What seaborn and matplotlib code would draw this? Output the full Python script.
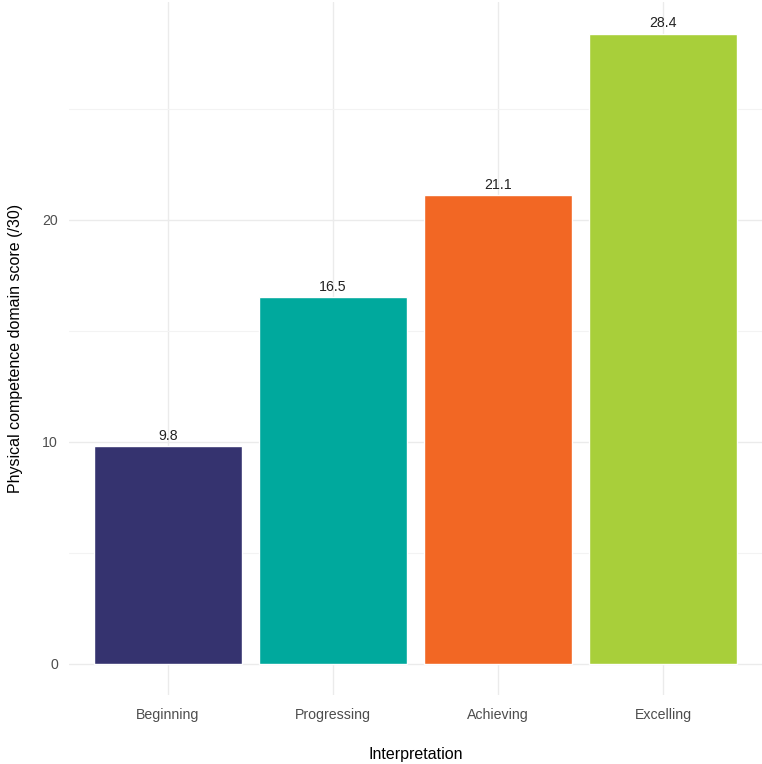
import matplotlib
matplotlib.use("Agg")
import matplotlib.pyplot as plt
import seaborn as sns
import pandas as pd
from matplotlib.ticker import MultipleLocator

categories = ["Beginning", "Progressing", "Achieving", "Excelling"]
scores = [9.8, 16.5, 21.1, 28.4]
colors = ["#35336F", "#00A99D", "#F26724", "#A8CF3A"]
y_ticks = [0, 10, 20]

df = pd.DataFrame({"Interpretation": categories, "Score": scores})

sns.set_theme(style="white")
plt.rcParams["font.family"] = ["Liberation Sans", "DejaVu Sans"]

fig = plt.figure(figsize=(7.62, 7.64), dpi=100)
ax = fig.add_axes([69 / 762, 69 / 764, 693 / 762, 693 / 764])

sns.barplot(data=df, x="Interpretation", y="Score", hue="Interpretation",
            palette=colors, width=0.9, saturation=1, legend=False, ax=ax,
            zorder=2)

ymax = max(scores)
pad = 0.05 * ymax
ax.set_ylim(-pad, ymax + pad)
ax.set_xlim(-0.6, len(categories) - 0.4)

ax.set_yticks(y_ticks)
ax.yaxis.set_minor_locator(MultipleLocator(5))
ax.grid(True, which="major", color="#EBEBEB", linewidth=1.0, zorder=0)
ax.grid(True, which="minor", axis="y", color="#F3F3F3", linewidth=0.8, zorder=0)
ax.set_axisbelow(True)

for s in ax.spines.values():
    s.set_visible(False)

ax.tick_params(axis="both", which="both", length=0, labelsize=10.2,
               labelcolor="#4D4D4D")
ax.tick_params(axis="x", pad=9)
ax.tick_params(axis="y", pad=8)

for i, v in enumerate(scores):
    ax.text(i, v + 0.15, f"{v:.1f}", ha="center", va="bottom",
            fontsize=10.2, color="#222222")

ax.set_xlabel("Interpretation", fontsize=11.5, color="black", labelpad=18)
ax.set_ylabel("Physical competence domain score (/30)", fontsize=11.5,
              color="black", labelpad=14)

fig.savefig("out.png", dpi=100, facecolor="white")
